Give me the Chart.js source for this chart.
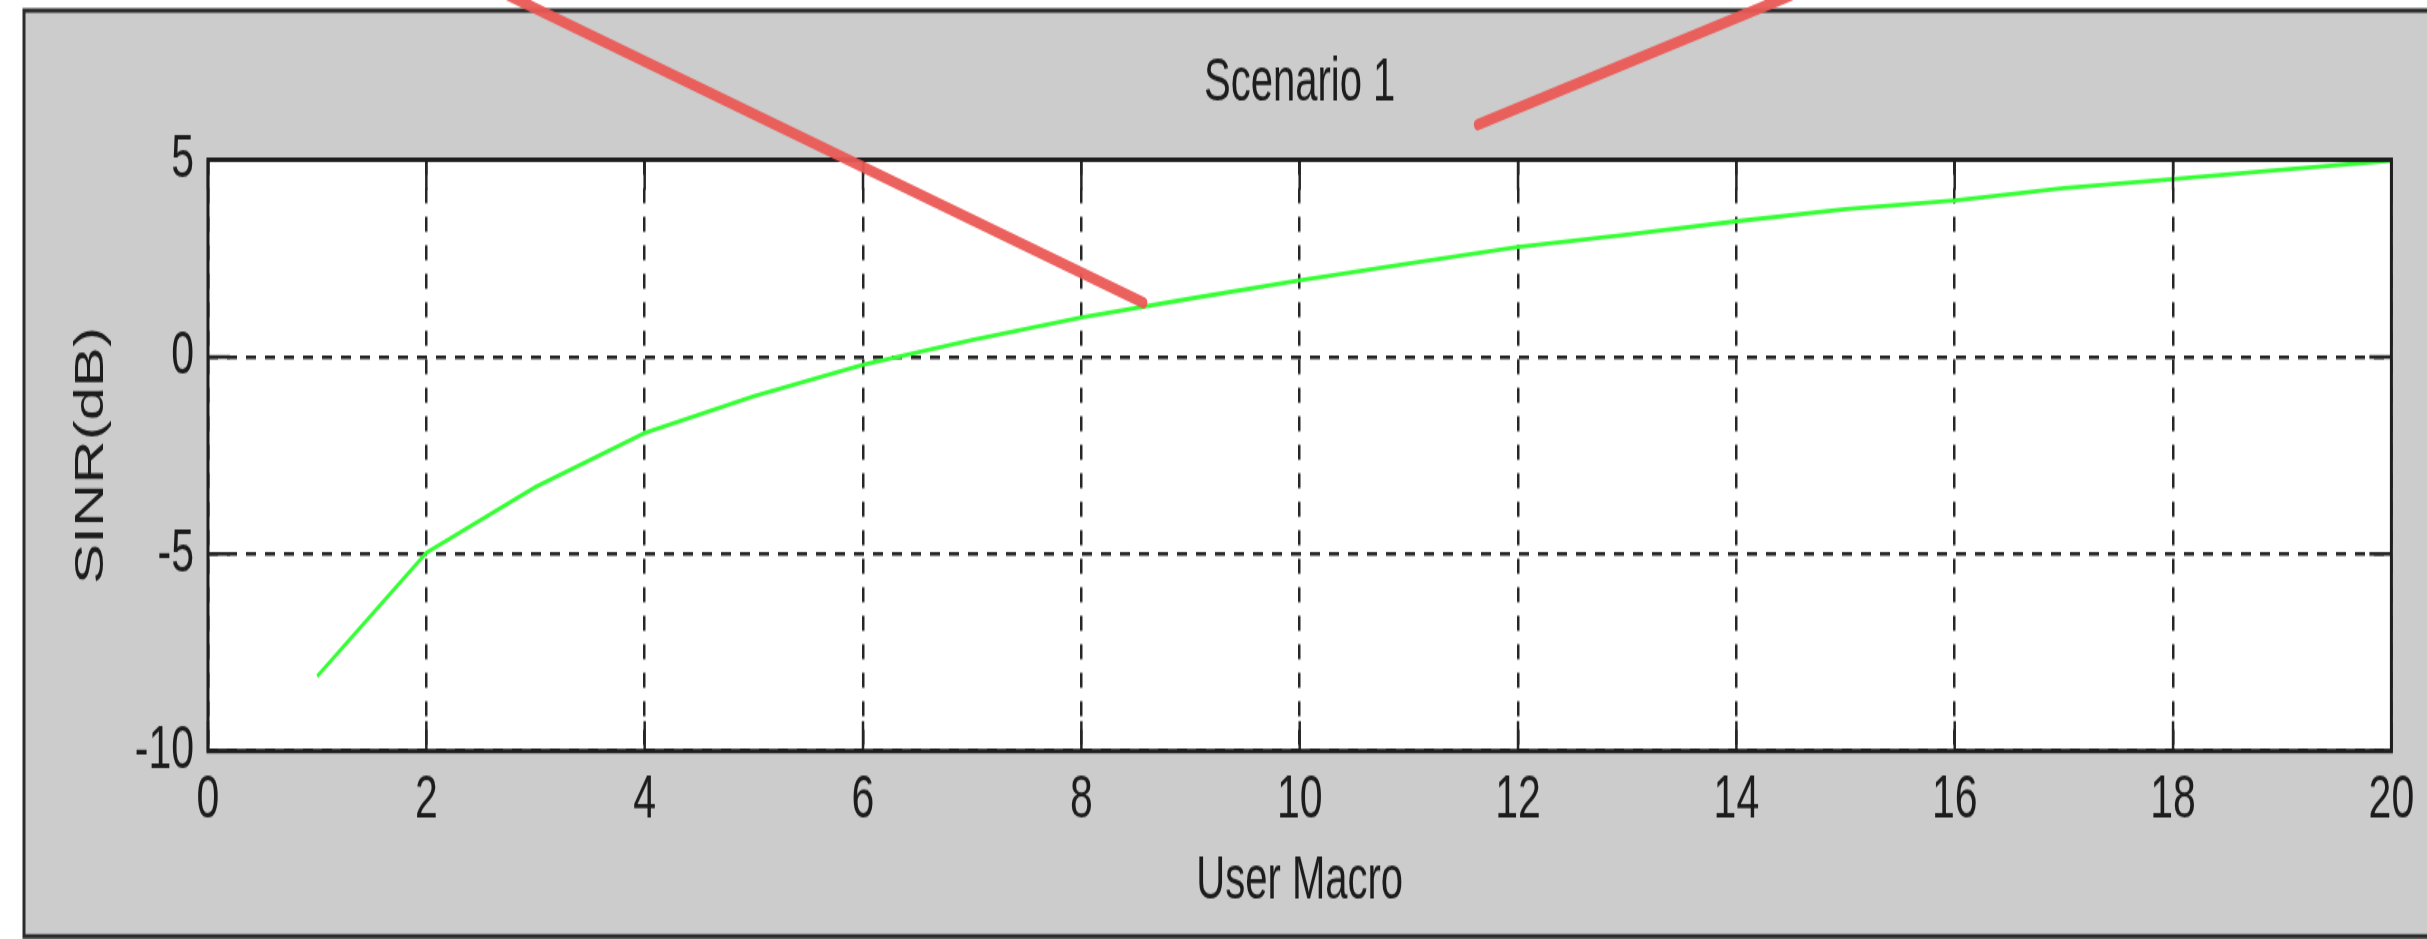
<!DOCTYPE html>
<html>
<head>
<meta charset="utf-8">
<script src="https://cdn.jsdelivr.net/npm/chart.js@4.4.1/dist/chart.umd.min.js"></script>
<style>
html,body{margin:0;padding:0;background:#fff;overflow:hidden}
canvas{display:block}
</style>
</head>
<body>
<canvas id="c" width="2427" height="626" style="width:2427px;height:939px"></canvas>
<script>
// ---- data ----
const users  = [1, 2, 3, 4, 5, 6, 7, 8, 9, 10, 11, 12, 13, 14, 15, 16, 17, 18, 19, 20];
const sinrDb = [-8.1, -4.97, -3.3, -1.93, -1.0, -0.2, 0.43, 1.0, 1.48, 1.94, 2.37, 2.79, 3.1, 3.44, 3.75, 3.97, 4.28, 4.51, 4.75, 4.98];
const xTicks = [0, 2, 4, 6, 8, 10, 12, 14, 16, 18, 20];
const yTicks = [-10, -5, 0, 5];
const chartTitle = 'Scenario 1';
const xTitle = 'User Macro';
const yTitle = 'SINR(dB)';
// red marker strokes drawn over the figure (data units)
const markAx = [2.70, 8.57];
const markAy = [9.24, 1.37];
const markBx = [11.63, 14.56];
const markBy = [5.89, 9.24];

// ---- style helpers ----
function hasFont(name) {
  const c = document.createElement('canvas').getContext('2d');
  c.font = '40px monospace';
  const a = c.measureText('20mmWWil').width;
  c.font = '40px "' + name + '", monospace';
  return c.measureText('20mmWWil').width !== a;
}
const narrow = hasFont('Liberation Sans Narrow');
const tickFont = narrow ? {family: '"Liberation Sans Narrow"', size: 45, lineHeight: 1, weight: 'normal'}
                        : {family: '"Liberation Sans", Arial, sans-serif', size: 41, lineHeight: 1, weight: 'normal'};
const textFont = {family: '"Liberation Sans", Arial, sans-serif', size: 40, lineHeight: 1.2, weight: 'normal'};
const INK = '#1c1c1c';
const GRID = '#262626';

const frame = {
  id: 'frame',
  beforeDraw(chart) {
    const {ctx, width, height} = chart;
    const a = chart.chartArea;
    ctx.save();
    ctx.fillStyle = '#ffffff';
    ctx.fillRect(0, 0, width, height);
    ctx.fillStyle = '#cccccc';
    ctx.fillRect(24, 7, width - 24, 624.3 - 7);
    ctx.strokeStyle = '#2b2b2b';
    ctx.lineWidth = 3;
    ctx.beginPath();
    ctx.moveTo(width + 5, 7);
    ctx.lineTo(24, 7);
    ctx.lineTo(24, 624.3);
    ctx.lineTo(width + 5, 624.3);
    ctx.stroke();
    ctx.fillStyle = '#ffffff';
    ctx.fillRect(a.left, a.top, a.right - a.left, a.bottom - a.top);
    ctx.restore();
  },
  afterDatasetDraw(chart, args) {
    if (args.index !== 0) return;
    const {ctx} = chart;
    const a = chart.chartArea;
    const xs = chart.scales.x, ys = chart.scales.y;
    ctx.save();
    ctx.strokeStyle = GRID;
    ctx.lineWidth = 2.5;
    ctx.setLineDash([]);
    ctx.beginPath();
    xs.ticks.forEach(t => {
      const px = xs.getPixelForValue(t.value);
      ctx.moveTo(px, a.bottom); ctx.lineTo(px, a.bottom - 20);
      ctx.moveTo(px, a.top); ctx.lineTo(px, a.top + 20);
    });
    ys.ticks.forEach(t => {
      const py = ys.getPixelForValue(t.value);
      ctx.moveTo(a.left, py); ctx.lineTo(a.left + 22, py);
      ctx.moveTo(a.right, py); ctx.lineTo(a.right - 22, py);
    });
    ctx.stroke();
    ctx.strokeStyle = '#1e1e1e';
    ctx.lineWidth = 3;
    ctx.strokeRect(a.left, a.top, a.right - a.left, a.bottom - a.top);
    ctx.restore();
  }
};

new Chart(document.getElementById('c'), {
  type: 'line',
  data: {
    datasets: [
      {
        label: 'SINR',
        data: users.map((u, i) => ({x: u, y: sinrDb[i]})),
        borderColor: '#33ff33',
        borderWidth: 2.8,
        pointRadius: 0,
        tension: 0,
        fill: false,
        order: 2
      },
      {
        label: 'markA',
        data: markAx.map((v, i) => ({x: v, y: markAy[i]})),
        borderColor: 'rgba(234,88,84,0.95)',
        borderWidth: 7.5,
        borderCapStyle: 'round',
        pointRadius: 0,
        clip: false,
        order: 1
      },
      {
        label: 'markB',
        data: markBx.map((v, i) => ({x: v, y: markBy[i]})),
        borderColor: 'rgba(234,88,84,0.95)',
        borderWidth: 7.5,
        borderCapStyle: 'round',
        pointRadius: 0,
        clip: false,
        order: 1
      }
    ]
  },
  options: {
    responsive: false,
    animation: false,
    devicePixelRatio: 1,
    layout: {padding: {left: 0, right: 32, top: 0, bottom: 0}},
    plugins: {
      legend: {display: false},
      tooltip: {enabled: false},
      title: {
        display: true,
        text: chartTitle,
        fullSize: false,
        color: INK,
        font: textFont,
        padding: {top: 31.5, bottom: 27}
      }
    },
    scales: {
      x: {
        type: 'linear',
        min: xTicks[0],
        max: xTicks[xTicks.length - 1],
        afterBuildTicks: s => { s.ticks = xTicks.map(v => ({value: v})); },
        afterFit: s => { s.height = 626 - 500.7; },
        grid: {color: GRID, lineWidth: 2.5, drawTicks: false},
        border: {display: false, dash: [10, 9]},
        ticks: {color: INK, font: tickFont, padding: narrow ? 10.8 : 12.8, autoSkip: false, maxRotation: 0},
        title: {display: true, text: xTitle, color: INK, font: textFont, padding: {top: 0, bottom: 14.5}}
      },
      y: {
        type: 'linear',
        min: yTicks[0],
        max: yTicks[yTicks.length - 1],
        afterBuildTicks: s => { s.ticks = yTicks.map(v => ({value: v})); },
        afterFit: s => { s.width = 208; },
        grid: {color: GRID, lineWidth: 2.5, drawTicks: false},
        border: {display: false, dash: [10, 9]},
        ticks: {color: INK, font: tickFont, padding: 14, autoSkip: false},
        title: {display: true, text: yTitle, color: INK, font: textFont, padding: {top: 68, bottom: 0}}
      }
    }
  },
  plugins: [frame]
});
</script>
</body>
</html>
